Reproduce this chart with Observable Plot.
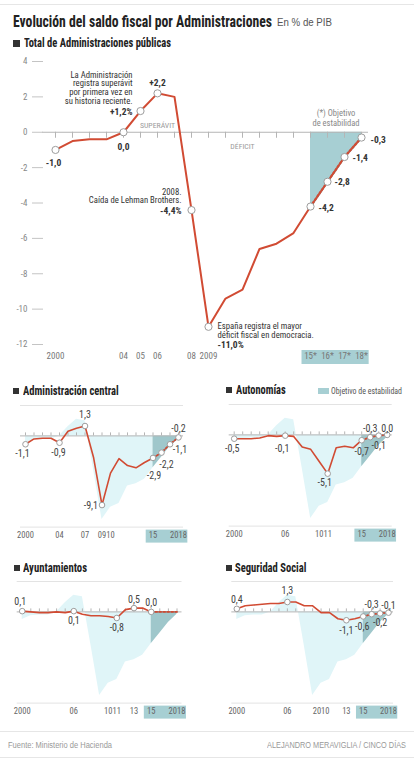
<!DOCTYPE html>
<html lang="es">
<head>
<meta charset="utf-8">
<script src="https://cdn.jsdelivr.net/npm/d3@7"></script>
<script src="https://cdn.jsdelivr.net/npm/@observablehq/plot@0.6"></script>
<style>
html,body{margin:0;padding:0;background:#fff;}
#root{position:relative;width:414px;height:763px;overflow:hidden;background:#fff;}
.t{position:absolute;white-space:nowrap;line-height:1;transform-origin:0 50%;}
.rule{position:absolute;left:0;width:414px;height:1px;background:#e6e6e6;}
.sq{position:absolute;width:6px;height:6px;background:#333;}
#root svg{position:absolute;overflow:visible;}
</style>
</head>
<body>
<div id="root"></div>
<script>
// ---------------- DATA ----------------
const years = [2000,2001,2002,2003,2004,2005,2006,2007,2008,2009,2010,2011,2012,2013,2014,2015];
const objectiveYears = [2015,2016,2017,2018];

const totalValues = [-1.0,-0.5,-0.4,-0.4,0.0,1.2,2.2,2.0,-4.4,-11.0,-9.4,-8.9,-6.6,-6.3,-5.7,-4.2];
const totalObjective = [-4.2,-2.8,-1.4,-0.3];

const centralValues = [-1.1,-0.4,-0.3,-0.3,-0.9,0.6,1.0,1.3,-2.8,-9.1,-4.9,-3.0,-3.9,-4.2,-3.5,-2.9];
const centralObjective = [-2.9,-2.2,-1.1,-0.2];

const autonomiasValues = [-0.5,-0.5,-0.5,-0.4,-0.1,-0.2,-0.1,-0.2,-1.6,-1.9,-3.5,-5.1,-1.7,-1.5,-1.7,-0.7];
const autonomiasObjective = [-0.7,-0.3,-0.1,0.0];

const ayuntamientosValues = [0.1,0.0,-0.1,-0.1,0.0,-0.1,0.1,-0.3,-0.5,-0.5,-0.6,-0.8,0.3,0.5,0.5,0.0];
const ayuntamientosObjective = [0.0,0.0,0.0,0.0];

const seguridadValues = [0.4,0.8,0.9,1.0,1.1,1.1,1.3,1.3,0.8,0.8,-0.1,-0.1,-0.9,-1.1,-0.9,-0.6];
const seguridadObjective = [-0.6,-0.3,-0.2,-0.1];

const yTicks = [4,2,0,-2,-4,-6,-8,-10,-12];
const totalTickYears = [2000,2004,2005,2006,2008,2009,2015,2016,2017,2018];
const totalTickLabels = ["2000","04","05","06","08","2009","15*","16*","17*","18*"];
const centralTickYears = [2000,2004,2007,2009,2010,2015,2018];
const centralTickLabels = ["2000","04","07","09","10","15","2018"];
const autonomiasTickYears = [2000,2006,2010,2011,2015,2018];
const autonomiasTickLabels = ["2000","06","10","11","15","2018"];
const ayuntamientosTickYears = [2000,2006,2010,2011,2013,2015,2018];
const ayuntamientosTickLabels = ["2000","06","10","11","13","15","2018"];
const seguridadTickYears = [2000,2006,2010,2013,2015,2018];
const seguridadTickLabels = ["2000","06","2010","13","15","2018"];

const totalLabelYears = [2000,2004,2005,2006,2008,2009,2015,2016,2017,2018];
const totalLabels = ["-1,0","0,0","+1,2%","+2,2","-4,4%","-11,0%","-4,2","-2,8","-1,4","-0,3"];
const totalNoteYears = [2005,2008,2009];
const totalNotes = [
  "La Administración\nregistra superávit\npor primera vez en\nsu historia reciente.",
  "2008.\nCaída de Lehman Brothers.",
  "España registra el mayor\ndéficit fiscal en democracia."
];
const zoneLabels = ["SUPERÁVIT","DÉFICIT"];
const zoneYears = [2006, 2011];
const zoneValues = [0.4, -0.8];
const objectiveNote = "(*) Objetivo\nde estabilidad";
const objectiveNoteYear = 2016.5, objectiveNoteValue = 0.8;

const centralLabelYears = [2000,2004,2007,2009,2015,2016,2017,2018];
const autonomiasLabelYears = [2000,2006,2011,2015,2016,2017,2018];
const ayuntamientosLabelYears = [2000,2006,2011,2013,2015];
const seguridadLabelYears = [2000,2006,2013,2015,2016,2017,2018];

// ---------------- FONTS ----------------
function hasFont(name) {
  const c = document.createElement("canvas").getContext("2d");
  const s = "mmmmmwwwwwlllii1234567890ABCabc";
  for (const base of ["monospace", "serif"]) {
    c.font = `40px ${base}`; const a = c.measureText(s).width;
    c.font = `40px "${name}", ${base}`; const b = c.measureText(s).width;
    if (Math.abs(a - b) > 0.5) return true;
  }
  return false;
}
const NARROW = ["Liberation Sans Narrow","Arial Narrow","Roboto Condensed","DejaVu Sans Condensed"].find(hasFont);
const K = NARROW ? 1 : 0.88;
const FONT = NARROW ? `"${NARROW}", "Liberation Sans", sans-serif` : `"Liberation Sans", Arial, sans-serif`;
const PLAIN = `"Liberation Sans", Arial, sans-serif`;

// ---------------- HELPERS ----------------
const root = document.getElementById("root");
const RED = "#d14b33", DOT = "#9d9d9d", TEAL = "#a7cfd3", TEAL_S = "#9fc7cb", CYAN = "#e0f5f8", AXIS = "#b5b5b5", LIGHT = "#e3e3e3";
const allYears = d3.range(2000, 2019);

const toRows = (ys, vs) => ys.map((year, i) => ({year, value: vs[i]}));
const valueAt = (rows, obj, y) => (rows.find(r => r.year === y) || obj.find(r => r.year === y)).value;
const fmt = v => (Math.abs(v) < 1e-9 ? "0,0" : v.toFixed(1).replace(".", ","));

function textMarks(items, common) {
  return items.map(it => Plot.text([it], {
    x: "year", y: "value", text: "text",
    dx: it.dx || 0, dy: it.dy || 0, textAnchor: it.anchor || "middle", ...common
  }));
}

function txt(s, o) {
  const d = document.createElement("div");
  d.className = "t";
  d.textContent = s;
  d.style.fontFamily = o.family || FONT;
  d.style.fontSize = o.size + "px";
  d.style.fontWeight = o.weight || 400;
  d.style.color = o.color || "#222";
  d.style.top = (o.cy - o.size * 0.5) + "px";
  root.appendChild(d);
  const w = d.getBoundingClientRect().width;
  const sx = o.width ? o.width / w : 1;
  const left = o.right != null ? o.right - (o.width || w) : o.left;
  d.style.left = left + "px";
  d.style.transform = `scaleX(${sx})`;
  return d;
}
function box(cls, left, top, w, h, bg) {
  const d = document.createElement("div");
  d.className = cls;
  d.style.left = left + "px"; d.style.top = top + "px";
  if (w != null) d.style.width = w + "px";
  if (h != null) d.style.height = h + "px";
  if (bg) d.style.background = bg;
  root.appendChild(d);
  return d;
}
function place(svg, left, top) {
  svg.style.left = left + "px";
  svg.style.top = top + "px";
  root.appendChild(svg);
}

const total = toRows(years, totalValues);
const totalObj = toRows(objectiveYears, totalObjective);

// ---------------- HEADER ----------------
box("rule", 0, 4, 414, 1);
txt("Evolución del saldo fiscal por Administraciones", {left: 13, cy: 21.5, size: 16, weight: 700, color: "#222", width: 259});
txt("En % de PIB", {left: 277, cy: 22.5, size: 10, family: PLAIN, color: "#555", width: 55});
box("sq", 13, 40, 6.5, 6.5);
txt("Total de Administraciones públicas", {left: 24, cy: 43, size: 12, weight: 700, color: "#222", width: 147});

// ---------------- MAIN CHART ----------------
{
  const H = 320, MT = 11, MB = 26, FH = H - MT - MB;
  const mainPlace = {
    2000: {dx: -2, dy: 13}, 2004: {dx: 0, dy: 15}, 2005: {dx: -8, dy: 0.5, anchor: "end"},
    2006: {dx: 0, dy: -10}, 2008: {dx: -10, dy: 1, anchor: "end"}, 2009: {dx: 9, dy: 18, anchor: "start"},
    2015: {dx: 8, dy: 1, anchor: "start"}, 2016: {dx: 7, dy: 0, anchor: "start"},
    2017: {dx: 8, dy: 1, anchor: "start"}, 2018: {dx: 9, dy: 2, anchor: "start"}
  };
  const notePlace = {
    2005: {dx: -8, dy: -23, anchor: "end"},
    2008: {dx: -10, dy: -14, anchor: "end"},
    2009: {dx: 9, dy: 4, anchor: "start"}
  };
  const labelItems = totalLabelYears.map((y, i) => ({year: y, value: valueAt(total, totalObj, y), text: totalLabels[i], ...mainPlace[y]}));
  const noteItems = totalNoteYears.map((y, i) => ({year: y, value: valueAt(total, totalObj, y), text: totalNotes[i], ...notePlace[y]}));
  const zoneItems = zoneLabels.map((t, i) => ({year: zoneYears[i], value: zoneValues[i], text: t}));

  const p = Plot.plot({
    width: 414, height: H, marginTop: MT, marginBottom: MB, marginLeft: 55, marginRight: 53,
    x: {domain: [2000, 2018], label: null},
    y: {domain: [-12, 4], label: null},
    style: {fontFamily: FONT, background: "transparent", overflow: "visible"},
    marks: [
      Plot.rect([0], {x1: () => objectiveYears[0] - 0.5, x2: () => objectiveYears[objectiveYears.length - 1] + 0.45, fill: TEAL, insetTop: FH + 6, insetBottom: -20}),
      Plot.areaY(totalObj, {x: "year", y: "value", fill: TEAL}),
      Plot.ruleY([0], {stroke: AXIS, insetLeft: -13, insetRight: -7}),
      Plot.ruleX(allYears, {x: d => d, y1: () => 0, y2: () => 0, insetBottom: -6, stroke: AXIS}),
      Plot.axisY(yTicks, {anchor: "left", tickSize: 11, tickPadding: 5, dx: -12, stroke: "#c4c4c4", color: "#888", fontSize: 9 * K, tickFormat: d => String(d), label: null}),
      Plot.line(total, {x: "year", y: "value", stroke: RED, strokeWidth: 2}),
      Plot.line(totalObj, {x: "year", y: "value", stroke: "#8f8f8f", strokeWidth: 2.2}),
      Plot.line(totalObj, {x: "year", y: "value", stroke: RED, strokeWidth: 2.2, strokeDasharray: "2,2"}),
      Plot.dot(labelItems, {x: "year", y: "value", r: 3.6, fill: "white", stroke: DOT, strokeWidth: 1}),
      ...textMarks(labelItems, {fontSize: 9.5 * K, fontWeight: "bold", fill: "#333"}),
      ...textMarks(noteItems, {fontSize: 8.7 * K, fill: "#333", lineHeight: 0.98}),
      Plot.text(zoneItems, {x: "year", y: "value", text: "text", fontSize: 7.8 * K, fill: "#9a9a9a"}),
      Plot.text([objectiveNote], {x: () => objectiveNoteYear, y: () => objectiveNoteValue, text: d => d, fontSize: 8.5 * K, fill: "#888", lineHeight: 1.1}),
      Plot.axisX(totalTickYears, {anchor: "bottom", tickSize: 0, tickPadding: 8, tickFormat: d => totalTickLabels[totalTickYears.indexOf(d)], fontSize: 9 * K, color: "#777", label: null})
    ]
  });
  place(p, 0, 50);
}

// ---------------- SMALL MULTIPLES ----------------
function small(cfg) {
  const rows = toRows(years, cfg.values), obj = toRows(objectiveYears, cfg.objective);
  const items = cfg.labelYears.map(y => {
    const v = valueAt(rows, obj, y);
    return {year: y, value: v, text: fmt(v), ...cfg.place[y]};
  });
  const H = 150, MT = 10, MB = 18.4, FH = H - MT - MB;
  const p = Plot.plot({
    width: 207, height: H, marginTop: MT, marginBottom: MB, marginLeft: cfg.ml, marginRight: cfg.mr,
    x: {domain: [2000, 2018], label: null},
    y: {domain: [-12, 4], label: null, axis: null},
    style: {fontFamily: FONT, background: "transparent", overflow: "visible"},
    marks: [
      Plot.ruleY([4, -12], {stroke: LIGHT, insetLeft: -5, insetRight: -5}),
      Plot.rect([0], {x1: () => objectiveYears[0] - 0.8, x2: () => objectiveYears[objectiveYears.length - 1] + 1.1, fill: TEAL, insetTop: FH + 3, insetBottom: -16}),
      Plot.areaY(total, {x: "year", y: "value", fill: CYAN}),
      Plot.areaY(totalObj, {x: "year", y: "value", fill: TEAL_S}),
      Plot.ruleY([0], {stroke: AXIS, insetLeft: -5, insetRight: -5}),
      Plot.ruleX(allYears, {x: d => d, y1: () => 0, y2: () => 0, insetTop: -3, stroke: AXIS}),
      Plot.line(rows, {x: "year", y: "value", stroke: RED, strokeWidth: 1.6}),
      Plot.line(obj, {x: "year", y: "value", stroke: "#8f8f8f", strokeWidth: 1.6}),
      Plot.line(obj, {x: "year", y: "value", stroke: RED, strokeWidth: 1.6, strokeDasharray: "2,2"}),
      Plot.dot(items, {x: "year", y: "value", r: 2.8, fill: "white", stroke: DOT, strokeWidth: 1}),
      ...textMarks(items, {fontSize: 10 * K, fill: "#444"}),
      Plot.axisX(cfg.tickYears, {anchor: "bottom", tickSize: 0, tickPadding: 5, tickFormat: d => cfg.tickLabels[cfg.tickYears.indexOf(d)], fontSize: 8.5 * K, color: "#666", label: null})
    ]
  });
  place(p, cfg.left, cfg.top);
}

// headers of small multiples
box("sq", 13.3, 388, 6, 6);
txt("Administración central", {left: 23.3, cy: 391, size: 12, weight: 700, width: 95.7});
box("sq", 226, 387.3, 6, 6);
txt("Autonomías", {left: 236, cy: 390.3, size: 12, weight: 700, width: 49.7});
box("sq", 318, 388.3, 10.7, 6, TEAL);
txt("Objetivo de estabilidad", {left: 331, cy: 391, size: 9.5, color: "#555", width: 71});
box("sq", 14, 565, 6, 6);
txt("Ayuntamientos", {left: 23.3, cy: 567.8, size: 12, weight: 700, width: 64});
box("sq", 226, 565, 6, 6);
txt("Seguridad Social", {left: 234.7, cy: 567.8, size: 12, weight: 700, width: 71.3});

small({
  left: 0, top: 395.3, ml: 25, mr: 29,
  values: centralValues, objective: centralObjective,
  labelYears: centralLabelYears, tickYears: centralTickYears, tickLabels: centralTickLabels,
  place: {2000: {dx: -3, dy: 10}, 2004: {dx: -1, dy: 10.5}, 2007: {dy: -11}, 2009: {dx: -4, dy: 1, anchor: "end"},
          2015: {dx: 1, dy: 18}, 2016: {dx: 5, dy: 12}, 2017: {dx: 10, dy: 6}, 2018: {dy: -9}}
});
small({
  left: 207, top: 393.6, ml: 26.7, mr: 27.3,
  values: autonomiasValues, objective: autonomiasObjective,
  labelYears: autonomiasLabelYears, tickYears: autonomiasTickYears, tickLabels: autonomiasTickLabels,
  place: {2000: {dx: -2, dy: 10.5}, 2006: {dx: -3, dy: 13}, 2011: {dx: -3, dy: 9}, 2015: {dy: 12},
          2016: {dy: -8.5}, 2017: {dy: 10}, 2018: {dy: -6.5}}
});
small({
  left: 0, top: 570.6, ml: 21.7, mr: 30.5,
  values: ayuntamientosValues, objective: ayuntamientosObjective,
  labelYears: ayuntamientosLabelYears, tickYears: ayuntamientosTickYears, tickLabels: ayuntamientosTickLabels,
  place: {2000: {dx: -2, dy: -9}, 2006: {dy: 10}, 2011: {dy: 10}, 2013: {dy: -8}, 2015: {dy: -9}}
});
small({
  left: 207, top: 570.6, ml: 29.3, mr: 26,
  values: seguridadValues, objective: seguridadObjective,
  labelYears: seguridadLabelYears, tickYears: seguridadTickYears, tickLabels: seguridadTickLabels,
  place: {2000: {dy: -9}, 2006: {dy: -11}, 2013: {dy: 11}, 2015: {dx: -1, dy: 10},
          2016: {dy: -9}, 2017: {dy: 9}, 2018: {dy: -7}}
});

// ---------------- FOOTER ----------------
box("rule", 0, 731, 414, 1);
box("rule", 0, 757, 414, 1);
txt("Fuente: Ministerio de Hacienda", {left: 8, cy: 745, size: 8.5, family: PLAIN, color: "#999", width: 104});
txt("ALEJANDRO MERAVIGLIA / CINCO DÍAS", {right: 406, cy: 745, size: 8.5, family: PLAIN, color: "#999", width: 139});
</script>
</body>
</html>
